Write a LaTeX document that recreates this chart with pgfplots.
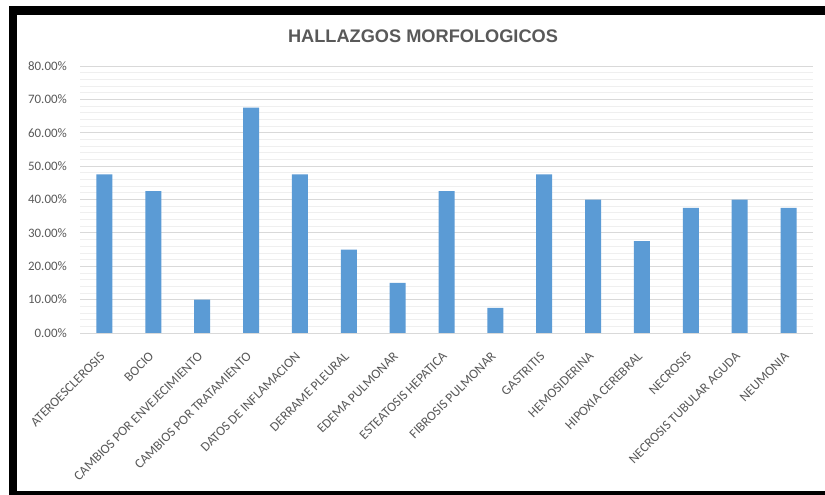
\documentclass[border=0pt]{standalone}
\usepackage{pgfplots}
\pgfplotsset{compat=1.18}
\usepackage{fontspec}
\setmainfont{Carlito}
\newfontfamily\titlefont{Liberation Sans}
\definecolor{barblue}{HTML}{5B9BD5}
\definecolor{txtgray}{HTML}{595959}
\definecolor{majgrid}{HTML}{D9D9D9}
\definecolor{mingrid}{HTML}{EFEFEF}
\begin{document}
\begin{tikzpicture}
\path[use as bounding box] (0,0) rectangle (825bp,495bp);
\fill[white] (0,0) rectangle (825bp,495bp);
\fill[black] (9bp,0) rectangle (825bp,489bp);
\fill[white] (17bp,4bp) rectangle (825bp,480bp);
\begin{axis}[
  at={(80bp,162bp)}, anchor=south west,
  scale only axis, width=733bp, height=267bp,
  ymin=0, ymax=80, xmin=-0.5, xmax=14.5,
  ytick={0,10,...,80},
  yticklabels={0.00\%,10.00\%,20.00\%,30.00\%,40.00\%,50.00\%,60.00\%,70.00\%,80.00\%},
  minor y tick num=4,
  ymajorgrids, yminorgrids,
  major grid style={majgrid, line width=0.8bp},
  minor grid style={mingrid, line width=0.8bp},
  axis line style={draw=none},
  major tick length=0pt, minor tick length=0pt,
  xtick={0,...,14},
  xticklabels={ATEROESCLEROSIS,BOCIO,CAMBIOS POR ENVEJECIMIENTO,CAMBIOS POR TRATAMIENTO,DATOS DE INFLAMACION,DERRAME PLEURAL,EDEMA PULMONAR,ESTEATOSIS HEPATICA,FIBROSIS PULMONAR,GASTRITIS,HEMOSIDERINA,HIPOXIA CEREBRAL,NECROSIS,NECROSIS TUBULAR AGUDA,NEUMONIA},
  ticklabel style={text=txtgray},
  yticklabel style={font=\fontsize{12.9bp}{15bp}\selectfont, inner sep=0pt, xshift=-13bp},
  xticklabel style={font=\fontsize{13.3bp}{16bp}\selectfont, xshift=-5bp, yshift=-18bp, rotate=45, anchor=north east, inner sep=0pt},
]
\addplot[ybar, bar width=16bp, fill=barblue, draw=none] coordinates {
(0,47.5) (1,42.5) (2,10) (3,67.5) (4,47.5) (5,25) (6,15) (7,42.5)
(8,7.5) (9,47.5) (10,40) (11,27.5) (12,37.5) (13,40) (14,37.5)};
\end{axis}
\node[font=\titlefont\bfseries\fontsize{18.2bp}{22bp}\selectfont, text=txtgray] at (423bp,459bp) {HALLAZGOS MORFOLOGICOS};
\end{tikzpicture}
\end{document}
